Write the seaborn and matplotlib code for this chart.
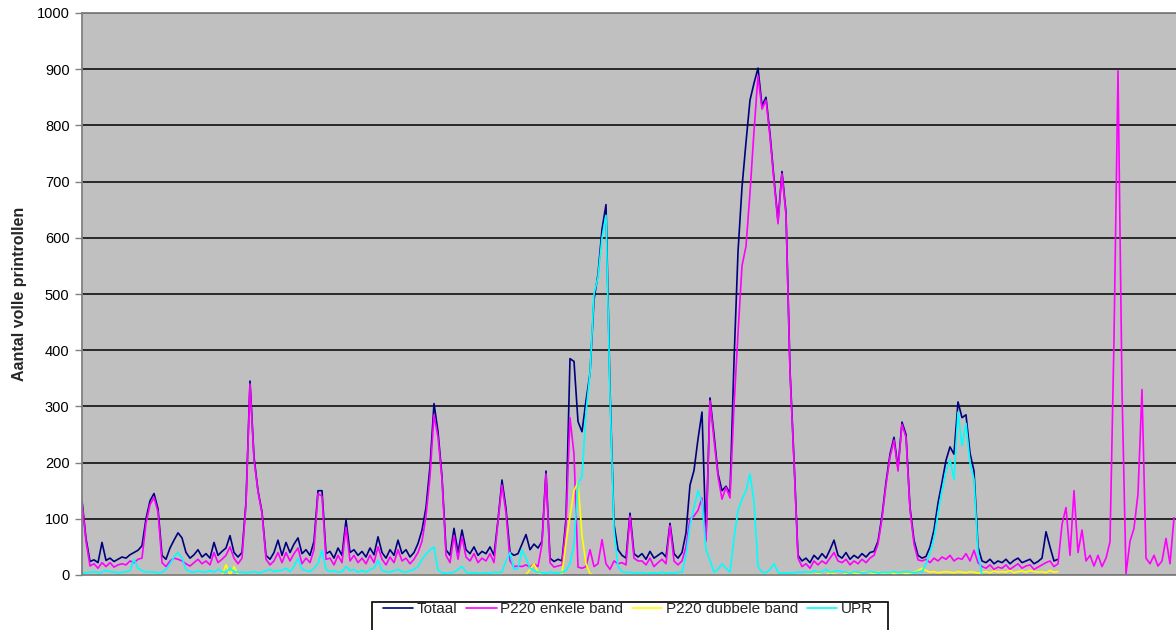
import numpy as np
import pandas as pd
import seaborn as sns
import matplotlib.pyplot as plt

nan = np.nan

# reeksnamen en kleuren
reeksen = ["Totaal", "P220 enkele band", "P220 dubbele band", "UPR"]
kleuren = ["#000080", "#FF00FF", "#FFFF00", "#00FFFF"]

totaal = [
    132, 65, 24, 27, 22, 58, 26, 30, 24, 28,
    32, 30, 36, 40, 44, 52, 100, 132, 145, 118,
    35, 28, 48, 62, 75, 66, 40, 30, 36, 45,
    32, 38, 30, 58, 35, 42, 48, 70, 40, 32,
    40, 130, 345, 210, 150, 112, 35, 28, 40, 62,
    35, 58, 40, 55, 66, 38, 45, 35, 60, 150,
    150, 38, 42, 30, 48, 35, 98, 40, 45, 35,
    42, 32, 48, 36, 68, 40, 30, 45, 35, 62,
    38, 45, 32, 40, 56, 80, 120, 193, 305, 255,
    175, 45, 35, 83, 40, 80, 45, 38, 50, 35,
    42, 38, 50, 35, 98, 169, 118, 40, 35, 38,
    55, 72, 45, 55, 48, 60, 185, 30, 24, 28,
    25, 100, 385, 380, 273, 255, 310, 359, 490, 535,
    615, 659, 330, 90, 45, 35, 30, 110, 38, 32,
    38, 28, 42, 30, 35, 40, 32, 92, 38, 30,
    40, 75, 160, 186, 242, 290, 65, 315, 250, 180,
    150, 158, 145, 380, 575, 690, 770, 845, 875, 902,
    835, 850, 785, 705, 630, 718, 645, 365, 205, 35,
    25, 30, 22, 35, 28, 38, 30, 45, 62, 35,
    30, 40, 28, 35, 30, 38, 32, 40, 42, 60,
    105, 165, 215, 245, 190, 272, 250, 120, 62, 35,
    30, 33, 50, 80, 128, 165, 204, 228, 215, 308,
    280, 285, 217, 185, 50, 25, 22, 28, 20, 25,
    22, 28, 20, 26, 30, 22, 25, 28, 20, 24,
    30, 77, 50, 25, 28, nan, nan, nan, nan, nan,
    nan, nan, nan, nan, nan, nan, nan, nan, nan, nan,
    nan, nan, nan, nan, nan, nan, nan, nan, nan, nan,
    nan, nan, nan, nan,
]

enkele = [
    130, 60, 16, 20, 12, 22, 15, 22, 14, 18,
    20, 18, 25, 22, 28, 30, 92, 125, 138, 112,
    22, 15, 25, 30, 28, 25, 20, 16, 22, 28,
    20, 25, 18, 40, 22, 28, 35, 50, 30, 20,
    30, 125, 340, 205, 148, 110, 28, 18, 25, 40,
    22, 40, 25, 38, 48, 20, 30, 22, 45, 145,
    140, 28, 30, 18, 35, 22, 85, 25, 35, 22,
    30, 20, 35, 22, 50, 28, 18, 32, 22, 45,
    25, 30, 20, 28, 40, 60, 105, 175, 285, 245,
    170, 35, 22, 70, 28, 68, 32, 25, 38, 22,
    30, 25, 38, 22, 95, 160, 110, 25, 15, 16,
    15, 18, 14, 20, 15, 55, 180, 22, 14, 16,
    18, 90, 280, 215, 14, 12, 15, 45, 15, 20,
    63, 20, 10, 25, 20, 22, 18, 105, 30, 25,
    25, 18, 30, 15, 22, 28, 20, 88, 25, 18,
    25, 50, 100, 105, 115, 137, 60, 310, 240, 175,
    135, 156, 137, 300, 430, 550, 585, 680, 790, 888,
    829, 845, 779, 700, 625, 714, 640, 360, 200, 30,
    15, 20, 12, 25, 18, 25, 20, 30, 40, 25,
    22, 28, 18, 25, 20, 28, 22, 30, 35, 55,
    100, 160, 210, 240, 185, 268, 245, 116, 55, 27,
    25, 28, 22, 30, 25, 32, 28, 35, 25, 30,
    28, 38, 25, 44, 22, 15, 12, 18, 10, 14,
    12, 18, 10, 15, 20, 12, 16, 18, 10, 14,
    18, 22, 25, 15, 20, 90, 120, 35, 150, 40,
    80, 25, 35, 16, 35, 15, 30, 59, 420, 897,
    330, 2, 60, 83, 145, 330, 30, 20, 35, 16,
    25, 65, 20, 102,
]

dubbele = [
    0, 0, 0, 0, 0, 0, 0, 0, 0, 0,
    0, 0, 0, 0, 0, 0, 0, 0, 0, 0,
    0, 0, 0, 0, 0, 0, 0, 0, 0, 0,
    0, 0, 0, 0, 0, 0, 18, 0, 15, 0,
    0, 0, 0, 0, 0, 0, 0, 0, 0, 0,
    0, 0, 0, 0, 0, 0, 0, 0, 0, 0,
    0, 0, 0, 0, 0, 0, 0, 0, 0, 0,
    0, 0, 0, 0, 0, 0, 0, 0, 0, 0,
    0, 0, 0, 0, 0, 0, 0, 0, 0, 0,
    0, 0, 0, 0, 0, 0, 0, 0, 0, 0,
    0, 0, 0, 0, 0, 0, 0, 0, 0, 0,
    0, 0, 10, 20, 5, 0, 0, 0, 0, 0,
    3, 57, 105, 150, 165, 70, 20, 2, 0, 0,
    0, 0, 0, 0, 0, 0, 0, 0, 0, 0,
    0, 0, 0, 0, 0, 0, 0, 0, 0, 0,
    0, 0, 0, 0, 0, 0, 0, 0, 0, 0,
    0, 0, 0, 0, 0, 0, 0, 0, 0, 0,
    0, 0, 0, 0, 0, 0, 0, 0, 0, 0,
    0, 0, 2, 0, 3, 0, 0, 4, 2, 0,
    0, 3, 5, 4, 2, 5, 6, 4, 3, 5,
    4, 3, 5, 2, 3, 4, 2, 3, 5, 8,
    12, 8, 5, 6, 4, 5, 6, 5, 4, 6,
    5, 4, 6, 5, 3, 5, 6, 4, 7, 5,
    6, 5, 8, 4, 6, 7, 5, 8, 6, 5,
    6, 4, 8, 5, 6, nan, nan, nan, nan, nan,
    nan, nan, nan, nan, nan, nan, nan, nan, nan, nan,
    nan, nan, nan, nan, nan, nan, nan, nan, nan, nan,
    nan, nan, nan, nan,
]

upr = [
    3, 4, 5, 6, 4, 5, 8, 6, 5, 4,
    5, 6, 8, 28, 12, 8, 5, 6, 5, 4,
    5, 10, 20, 32, 40, 30, 10, 6, 5, 7,
    6, 5, 8, 5, 10, 6, 5, 12, 6, 5,
    5, 4, 5, 6, 4, 5, 8, 10, 6, 8,
    8, 12, 6, 15, 30, 10, 8, 6, 12, 20,
    44, 10, 6, 8, 5, 6, 15, 8, 10, 5,
    8, 5, 10, 12, 26, 8, 6, 5, 8, 10,
    6, 5, 8, 10, 15, 28, 37, 45, 50, 9,
    4, 3, 4, 5, 10, 15, 5, 3, 4, 3,
    3, 4, 3, 5, 4, 6, 25, 40, 10, 12,
    45, 30, 12, 8, 5, 4, 3, 5, 4, 3,
    5, 8, 20, 55, 162, 175, 290, 359, 500, 530,
    600, 640, 320, 80, 15, 6, 4, 5, 3, 4,
    4, 3, 3, 4, 3, 5, 3, 4, 3, 5,
    5, 35, 88, 120, 150, 130, 45, 26, 5, 10,
    20, 12, 5, 65, 115, 135, 150, 180, 130, 15,
    5, 4, 10, 20, 5, 3, 4, 3, 4, 5,
    5, 6, 4, 8, 5, 6, 10, 5, 6, 8,
    6, 5, 4, 6, 5, 4, 5, 6, 5, 4,
    5, 4, 5, 6, 4, 5, 6, 5, 4, 6,
    5, 20, 40, 65, 110, 150, 185, 205, 170, 290,
    230, 270, 200, 170, 40, 0, nan, nan, nan, nan,
    nan, nan, nan, nan, nan, nan, nan, nan, nan, nan,
    nan, nan, nan, nan, nan, nan, nan, nan, nan, nan,
    nan, nan, nan, nan, nan, nan, nan, nan, nan, nan,
    nan, nan, nan, nan, nan, nan, nan, nan, nan, nan,
    nan, nan, nan, nan,
]

yticks = list(range(0, 1001, 100))

# long format voor seaborn
tijd = np.arange(len(totaal))
df = pd.concat([
    pd.DataFrame({"tijd": tijd, "aantal": vals, "reeks": naam})
    for naam, vals in zip(reeksen, [totaal, enkele, dubbele, upr])
]).dropna()

sns.set_style("white")
plt.rcParams["font.family"] = ["Liberation Sans", "DejaVu Sans"]

fig = plt.figure(figsize=(11.76, 6.30), dpi=100)
ax = fig.add_axes([82 / 1176, 1 - 575 / 630, 1 - 82 / 1176, (575 - 13) / 630])
ax.set_facecolor("#C0C0C0")

sns.lineplot(data=df, x="tijd", y="aantal", hue="reeks", hue_order=reeksen,
             palette=kleuren, estimator=None, linewidth=1.2, legend=False, ax=ax)

ax.set_xlim(0, (1176 - 82) / 4)
ax.set_ylim(0, 1000)
ax.set_xticks([])
ax.set_yticks(yticks)
ax.set_yticklabels([str(t) for t in yticks])
ax.tick_params(axis="y", left=True, length=5, width=1, color="#808080",
               labelsize=10.5, pad=4, labelcolor="black")
ax.grid(axis="y", color="black", linewidth=1.1)
ax.set_axisbelow(True)
for s in ["left", "bottom", "top"]:
    ax.spines[s].set_color("#808080")
    ax.spines[s].set_linewidth(1.3)
ax.spines["right"].set_visible(False)

ax.set_xlabel("")
ax.set_ylabel("Aantal volle printrollen", fontsize=11.5, fontweight="bold")
ax.yaxis.set_label_coords(-0.05, 0.5)

# legenda onderaan met rechthoekig kader
handles = ax.get_lines()[:4]
fig.legend(handles, reeksen, loc="center", bbox_to_anchor=(628 / 1176, 1 - 609 / 630),
           ncol=4, frameon=False, fontsize=11, handlelength=2.0,
           handletextpad=0.25, columnspacing=0.55, borderpad=0)
fig.patches.append(plt.Rectangle((372 / 1176, -0.05), (888 - 372) / 1176,
                                 0.05 + (630 - 602) / 630, transform=fig.transFigure,
                                 fill=False, edgecolor="black", linewidth=1.2))

fig.savefig("out.png", dpi=100)
